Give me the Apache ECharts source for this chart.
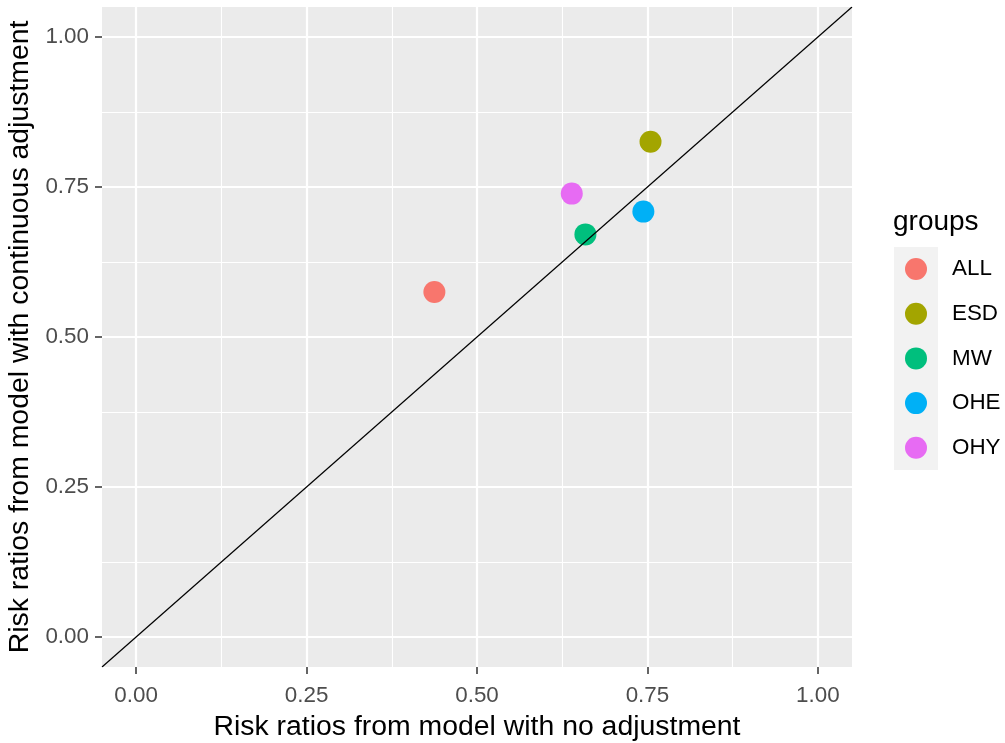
<!DOCTYPE html>
<html>
<head>
<meta charset="utf-8">
<script src="https://cdn.jsdelivr.net/npm/echarts@6/dist/echarts.min.js"></script>
<style>html,body{margin:0;padding:0;background:#fff}#c{width:1005px;height:743px}</style>
</head>
<body>
<div id="c"></div>
<script>
// ---- data ----
const groups = ['ALL', 'ESD', 'MW', 'OHE', 'OHY'];
const noAdjustment = [0.4375, 0.7545, 0.659, 0.744, 0.639];       // x
const continuousAdjustment = [0.575, 0.8255, 0.671, 0.709, 0.739]; // y
const groupColors = ['#F8766D', '#A3A500', '#00BF7D', '#00B0F6', '#E76BF3'];
const majorTicks = [0, 0.25, 0.5, 0.75, 1];
const minorTicks = [0.125, 0.375, 0.625, 0.875];
const tickLabels = ['0.00', '0.25', '0.50', '0.75', '1.00'];
const axisLimits = [-0.05, 1.05];
const abline = { intercept: 0, slope: 1 };

const FONT = 'Liberation Sans, Arial, sans-serif';
const fmt = v => { const i = majorTicks.indexOf(+v.toFixed(3)); return i >= 0 ? tickLabels[i] : ''; };

function majorAxis(name, isY) {
  return {
    type: 'value', position: isY ? 'left' : 'bottom', min: axisLimits[0], max: axisLimits[1],
    name: name, nameLocation: 'middle', nameGap: isY ? 55 : 46,
    nameTextStyle: { fontFamily: FONT, fontSize: 28.4, color: '#000' },
    axisLine: { show: true, onZero: false, lineStyle: { color: 'rgba(0,0,0,0)', width: 0 } },
    axisTick: { show: true, inside: false, length: 7, customValues: majorTicks, lineStyle: { color: '#333333', width: 1.5 } },
    axisLabel: { show: true, customValues: majorTicks, formatter: fmt, margin: isY ? 13 : 18, fontFamily: FONT, fontSize: 22.4, color: '#4D4D4D' },
    splitLine: { show: true, lineStyle: { color: '#FFFFFF', width: 2.2 } },
    z: 2
  };
}
function minorAxis(isY) {
  return {
    type: 'value', position: isY ? 'left' : 'bottom', min: axisLimits[0], max: axisLimits[1],
    axisLine: { show: false, onZero: false },
    axisTick: { show: false, customValues: minorTicks },
    axisLabel: { show: false, customValues: minorTicks },
    splitLine: { show: true, lineStyle: { color: '#FFFFFF', width: 1.1 } },
    z: 1
  };
}

const series = groups.map((g, i) => ({
  name: g, type: 'scatter', xAxisIndex: 0, yAxisIndex: 0,
  symbol: 'circle', symbolSize: 22,
  itemStyle: { color: groupColors[i], opacity: 1 },
  data: [[noAdjustment[i], continuousAdjustment[i]]],
  z: 3
}));
series.push({
  name: 'abline', type: 'line', xAxisIndex: 0, yAxisIndex: 0,
  showSymbol: false, symbol: 'none', silent: true,
  lineStyle: { color: '#000', width: 1.2 },
  data: axisLimits.map(x => [x, abline.intercept + abline.slope * x]),
  z: 4
});

const chart = echarts.init(document.getElementById('c'), null, { renderer: 'canvas' });
chart.setOption({
  animation: false,
  backgroundColor: '#FFFFFF',
  grid: { left: 102, right: 153, top: 7, bottom: 76, show: true, backgroundColor: '#EBEBEB', borderWidth: 0, containLabel: false, outerBoundsMode: 'none' },
  xAxis: [majorAxis('Risk ratios from model with no adjustment', false), minorAxis(false)],
  yAxis: [majorAxis('Risk ratios from model with continuous adjustment', true), minorAxis(true)],
  title: {
    text: 'groups', left: 893, top: 208, padding: 0,
    textStyle: { fontFamily: FONT, fontSize: 28, fontWeight: 'normal', color: '#000' }
  },
  graphic: [{
    type: 'rect', left: 894, top: 247, shape: { width: 44, height: 223 },
    style: { fill: '#F2F2F2' }, z: 0
  }],
  legend: {
    data: groups, orient: 'vertical', left: 905, top: 258, padding: 0,
    itemWidth: 22, itemHeight: 22, itemGap: 22.7, icon: 'circle',
    textStyle: { fontFamily: FONT, fontSize: 22.4, color: '#000', lineHeight: 22, padding: [0, 0, 0, 20] }
  },
  series: series
});
</script>
</body>
</html>
